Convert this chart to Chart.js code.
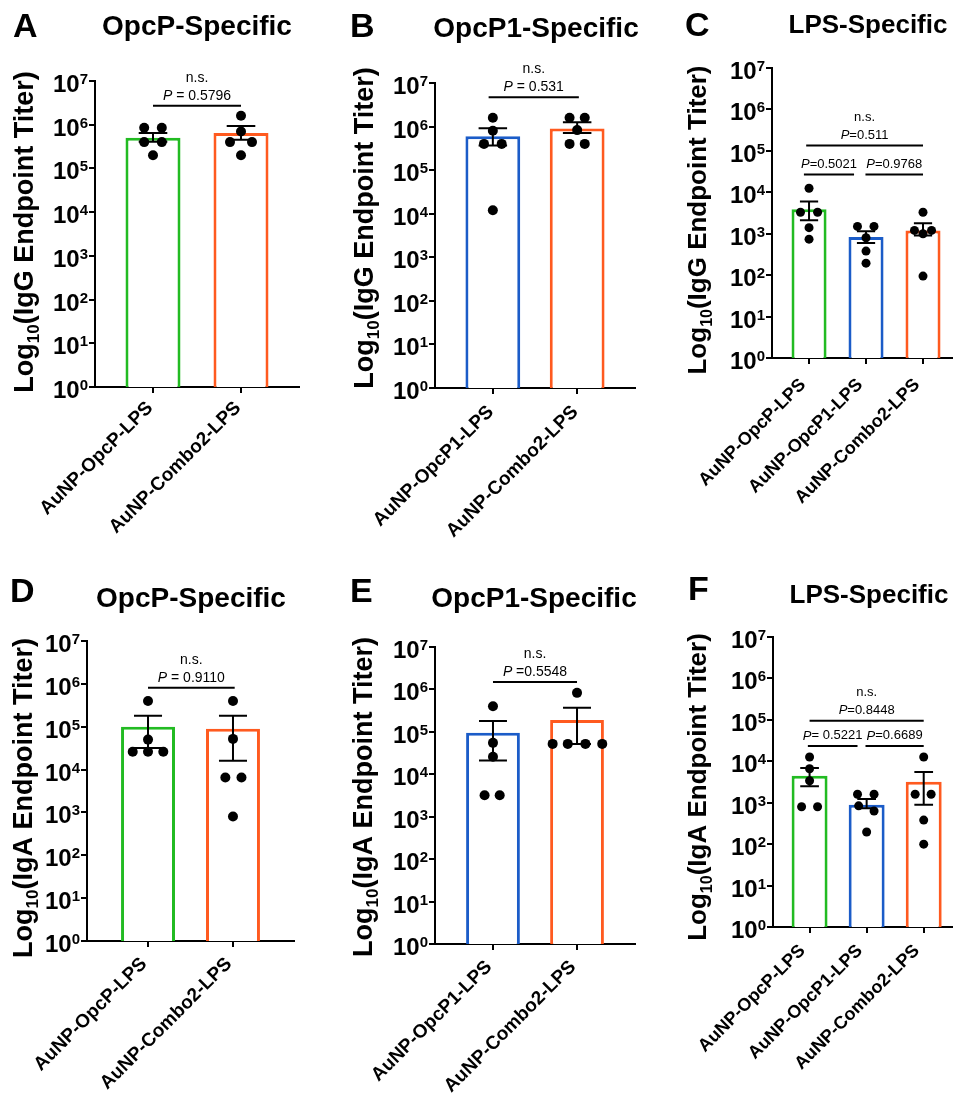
<!DOCTYPE html>
<html>
<head>
<meta charset="utf-8">
<script src="https://cdn.jsdelivr.net/npm/chart.js@4.4.0/dist/chart.umd.min.js"></script>
<style>
  html, body { margin: 0; padding: 0; background: #fff; }
  #fig { position: relative; width: 956px; height: 1108px; overflow: hidden; }
  #fig canvas { position: absolute; }
</style>
</head>
<body>
<div id="fig">
  <canvas id="panel-A" width="320" height="560" style="left:0px;top:0px"></canvas>
  <canvas id="panel-B" width="320" height="560" style="left:320px;top:0px"></canvas>
  <canvas id="panel-C" width="316" height="560" style="left:640px;top:0px"></canvas>
  <canvas id="panel-D" width="320" height="548" style="left:0px;top:560px"></canvas>
  <canvas id="panel-E" width="320" height="548" style="left:320px;top:560px"></canvas>
  <canvas id="panel-F" width="316" height="548" style="left:640px;top:560px"></canvas>
</div>
<script>
// ------------------- Data ------------------
const decades = [1, 10, 100, 1e3, 1e4, 1e5, 1e6, 1e7];

// A - IgG, OpcP-specific
const groupsA = ['AuNP-OpcP-LPS', 'AuNP-Combo2-LPS'];
const meanA = [5.0e5, 6.5e5];
const errHiA = [6.5e5, 9.3e5];
const errLoA = [4.1e5, 4.5e5];
const miceA = [[8.5e5, 8.5e5, 4.0e5, 4.0e5, 2.0e5], [1.6e6, 7.0e5, 4.0e5, 4.0e5, 2.0e5]];
const jitterA = [[-0.1, 0.1, -0.1, 0.1, 0], [0, 0, -0.125, 0.125, 0]];
const bracketsA = [{ from: 1, to: 2, y: 2.7e6, p: 'P = 0.5796', ns: true }];

// B - IgG, OpcP1-specific
const groupsB = ['AuNP-OpcP1-LPS', 'AuNP-Combo2-LPS'];
const meanB = [6.0e5, 9.0e5];
const errHiB = [9.1e5, 1.26e6];
const errLoB = [3.7e5, 7.1e5];
const miceB = [[1.6e6, 8.0e5, 4.0e5, 4.0e5, 1.2e4], [1.6e6, 1.6e6, 8.3e5, 4.0e5, 4.0e5]];
const jitterB = [[0, 0, -0.105, 0.105, 0], [-0.09, 0.09, 0, -0.09, 0.09]];
const bracketsB = [{ from: 0.95, to: 2.02, y: 4.7e6, p: 'P = 0.531', ns: true }];

// C - IgG, LPS-specific
const groupsC = ['AuNP-OpcP-LPS', 'AuNP-OpcP1-LPS', 'AuNP-Combo2-LPS'];
const meanC = [3.9e3, 8.3e2, 1.2e3];
const errHiC = [6.0e3, 1.15e3, 1.8e3];
const errLoC = [2.1e3, 6.0e2, 9.1e2];
const miceC = [[1.25e4, 3.3e3, 3.3e3, 1.4e3, 7.4e2], [1.5e3, 1.5e3, 8.0e2, 3.8e2, 1.95e2], [3.3e3, 1.2e3, 1.2e3, 1.0e3, 95]];
const jitterC = [[0, -0.15, 0.15, 0, 0], [-0.15, 0.14, 0, 0, 0], [0, -0.15, 0.15, 0, 0]];
const bracketsC = [
  { from: 0.95, to: 3.0, y: 1.35e5, p: 'P=0.511', ns: true },
  { from: 0.91, to: 1.79, y: 2.7e4, p: 'P=0.5021', ns: false },
  { from: 1.99, to: 3.0, y: 2.7e4, p: 'P=0.9768', ns: false }
];

// D - IgA, OpcP-specific
const groupsD = ['AuNP-OpcP-LPS', 'AuNP-Combo2-LPS'];
const meanD = [1.0e5, 9.0e4];
const errHiD = [1.8e5, 1.8e5];
const errLoD = [3.2e4, 1.6e4];
const miceD = [[4.0e5, 5.0e4, 2.6e4, 2.6e4, 2.6e4], [4.0e5, 5.2e4, 6.5e3, 6.5e3, 8.0e2]];
const jitterD = [[0, 0, -0.18, 0, 0.18], [0, 0, -0.09, 0.1, 0]];
const bracketsD = [{ from: 1, to: 2.02, y: 8.1e5, p: 'P = 0.9110', ns: true }];

// E - IgA, OpcP1-specific
const groupsE = ['AuNP-OpcP1-LPS', 'AuNP-Combo2-LPS'];
const meanE = [9.5e4, 1.9e5];
const errHiE = [1.8e5, 3.7e5];
const errLoE = [2.1e4, 5.2e4];
const miceE = [[4.0e5, 5.5e4, 2.6e4, 3.2e3, 3.2e3], [8.3e5, 5.2e4, 5.2e4, 5.2e4, 5.2e4]];
const jitterE = [[0, 0, 0, -0.1, 0.08], [0, -0.29, -0.11, 0.1, 0.3]];
const bracketsE = [{ from: 1, to: 2, y: 1.5e6, p: 'P =0.5548', ns: true }];

// F - IgA, LPS-specific
const groupsF = ['AuNP-OpcP-LPS', 'AuNP-OpcP1-LPS', 'AuNP-Combo2-LPS'];
const meanF = [4.5e3, 8.9e2, 3.2e3];
const errHiF = [6.9e3, 1.23e3, 5.5e3];
const errLoF = [2.5e3, 7.4e2, 8.9e2];
const miceF = [[1.27e4, 6.6e3, 3.4e3, 8.0e2, 8.0e2], [1.6e3, 1.6e3, 8.4e2, 6.3e2, 1.96e2], [1.27e4, 1.6e3, 1.6e3, 3.8e2, 1.0e2]];
const jitterF = [[0, 0, 0, -0.14, 0.14], [-0.16, 0.13, -0.14, 0.13, 0], [0, -0.15, 0.13, 0, 0]];
const bracketsF = [
  { from: 1.0, to: 3.0, y: 9.5e4, p: 'P=0.8448', ns: true },
  { from: 0.97, to: 1.84, y: 2.35e4, p: 'P= 0.5221', ns: false },
  { from: 1.98, to: 3.0, y: 2.35e4, p: 'P=0.6689', ns: false }
];

// ------------------- Styles ------------------
const FONT = '"Liberation Sans", Arial, Helvetica, sans-serif';
const green = '#22BB22';
const blue = '#1B5CC8';
const orange = '#FF5A1F';

function drawStat(ctx, text, cx, cy, size) {
  const italic = 'italic ' + size + 'px ' + FONT;
  const plain = size + 'px ' + FONT;
  let head = '', rest = text;
  if (text.charAt(0) === 'P') { head = 'P'; rest = text.slice(1); }
  ctx.font = italic;
  const w1 = head ? ctx.measureText(head).width : 0;
  ctx.font = plain;
  const w2 = ctx.measureText(rest).width;
  let x = cx - (w1 + w2) / 2;
  ctx.textAlign = 'left';
  ctx.textBaseline = 'middle';
  if (head) { ctx.font = italic; ctx.fillText(head, x, cy); x += w1; }
  ctx.font = plain;
  ctx.fillText(rest, x, cy);
}

function titerPanel(canvasId, p) {
  // ------------------- Datasets ------------------
  const datasets = [{
    type: 'bar',
    data: p.groups.map((g, i) => ({ x: i + 1, y: p.means[i] })),
    backgroundColor: '#ffffff',
    borderColor: p.colors,
    borderWidth: 3,
    barPercentage: p.barPct,
    categoryPercentage: 1,
    order: 2
  }];
  p.mice.forEach((vals, i) => {
    datasets.push({
      type: 'scatter',
      data: vals.map((v, k) => ({ x: i + 1 + p.jitter[i][k], y: v })),
      backgroundColor: '#000000',
      borderWidth: 0,
      pointRadius: p.dotR,
      clip: false,
      order: 1
    });
  });

  // ------------------- Extra drawing: error bars, labels, brackets ------------------
  const decor = {
    id: 'decor',
    afterDatasetsDraw(chart) {
      const ctx = chart.ctx;
      const ys = chart.scales.y;
      ctx.save();
      ctx.strokeStyle = '#000';
      ctx.lineWidth = 2;
      chart.getDatasetMeta(0).data.forEach((bar, i) => {
        const yHi = ys.getPixelForValue(p.errHi[i]);
        const yLo = ys.getPixelForValue(p.errLo[i]);
        const half = bar.width * 0.26;
        ctx.beginPath();
        ctx.moveTo(bar.x, yHi); ctx.lineTo(bar.x, yLo);
        ctx.moveTo(bar.x - half, yHi); ctx.lineTo(bar.x + half, yHi);
        ctx.moveTo(bar.x - half, yLo); ctx.lineTo(bar.x + half, yLo);
        ctx.stroke();
      });
      ctx.restore();
    },
    afterDraw(chart) {
      const ctx = chart.ctx;
      const area = chart.chartArea;
      const xs = chart.scales.x, ys = chart.scales.y;
      ctx.save();
      ctx.fillStyle = '#000';

      // panel letter and title
      ctx.textBaseline = 'alphabetic';
      ctx.textAlign = 'left';
      ctx.font = 'bold 34px ' + FONT;
      ctx.fillText(p.letter, p.letterPos[0], p.letterPos[1]);
      ctx.textAlign = 'center';
      ctx.font = 'bold ' + p.titleSize + 'px ' + FONT;
      ctx.fillText(p.title, p.titlePos[0], p.titlePos[1]);

      // y tick labels 10^n
      ctx.textAlign = 'right';
      ys.ticks.forEach(t => {
        const y = ys.getPixelForValue(t.value);
        const exp = String(Math.round(Math.log10(t.value)));
        const xr = area.left - 7;
        ctx.font = 'bold 15px ' + FONT;
        ctx.fillText(exp, xr, y + 3);
        const w = ctx.measureText(exp).width;
        ctx.font = 'bold 24px ' + FONT;
        ctx.fillText('10', xr - w, y + 11);
      });

      // y axis title with subscript
      ctx.save();
      ctx.translate(p.axisTitle[0], p.axisTitle[1]);
      ctx.rotate(-Math.PI / 2);
      const big = 'bold ' + p.axisTitle[2] + 'px ' + FONT;
      const small = 'bold ' + Math.round(p.axisTitle[2] * 0.62) + 'px ' + FONT;
      const parts = [['Log', big, 0], ['10', small, 6], ['(' + p.isotype + ' Endpoint Titer)', big, 0]];
      let total = 0;
      parts.forEach(pt => { ctx.font = pt[1]; total += ctx.measureText(pt[0]).width; });
      let x0 = -total / 2;
      ctx.textAlign = 'left';
      parts.forEach(pt => {
        ctx.font = pt[1];
        ctx.fillText(pt[0], x0, pt[2]);
        x0 += ctx.measureText(pt[0]).width;
      });
      ctx.restore();

      // x category labels, rotated 45 degrees
      ctx.font = 'bold ' + p.labelSize + 'px ' + FONT;
      ctx.textAlign = 'right';
      ctx.textBaseline = 'middle';
      xs.ticks.forEach((t, i) => {
        const x = xs.getPixelForValue(t.value);
        ctx.save();
        ctx.translate(x + p.labelOff[0], area.bottom + p.labelOff[1]);
        ctx.rotate(-Math.PI / 4);
        ctx.fillText(p.groups[i], 0, 0);
        ctx.restore();
      });

      // significance brackets
      ctx.strokeStyle = '#000';
      ctx.lineWidth = 2;
      p.brackets.forEach(b => {
        const y = ys.getPixelForValue(b.y);
        const x1 = xs.getPixelForValue(b.from);
        const x2 = xs.getPixelForValue(b.to);
        ctx.beginPath();
        ctx.moveTo(x1, y); ctx.lineTo(x2, y);
        ctx.stroke();
        drawStat(ctx, b.p, (x1 + x2) / 2, y - 10, p.pSize);
        if (b.ns) drawStat(ctx, 'n.s.', (x1 + x2) / 2, y - 28, p.pSize);
      });
      ctx.restore();
    }
  };

  // ------------------- Chart Options ------------------
  const axisLine = { display: true, color: '#000', width: 2 };
  const tickMarks = { display: true, drawOnChartArea: false, drawTicks: true, tickLength: 6, color: '#000', lineWidth: 2, offset: false };
  const chartOptions = {
    responsive: false,
    animation: false,
    devicePixelRatio: 1,
    events: [],
    layout: { padding: p.pad },
    plugins: { legend: { display: false }, tooltip: { enabled: false }, title: { display: false } },
    scales: {
      x: {
        type: 'linear', min: p.xMin, max: p.xMax, offset: false, z: 1,
        afterBuildTicks: s => { s.ticks = p.groups.map((g, i) => ({ value: i + 1 })); },
        afterFit: s => { s.height = 0; },
        ticks: { display: false },
        grid: tickMarks,
        border: axisLine
      },
      y: {
        type: 'logarithmic', min: 1, max: 1e7, z: 1,
        afterBuildTicks: s => { s.ticks = decades.map(v => ({ value: v, major: true })); },
        afterFit: s => { s.width = 0; },
        ticks: { display: false },
        grid: tickMarks,
        border: axisLine
      }
    }
  };

  // ------------------- Initialize Chart ------------------
  return new Chart(document.getElementById(canvasId), {
    type: 'bar',
    data: { datasets: datasets },
    options: chartOptions,
    plugins: [decor]
  });
}

titerPanel('panel-A', {
  letter: 'A', title: 'OpcP-Specific', isotype: 'IgG',
  groups: groupsA, means: meanA, errHi: errHiA, errLo: errLoA, mice: miceA, jitter: jitterA, brackets: bracketsA,
  colors: [green, orange],
  pad: { left: 95, top: 81, right: 21, bottom: 173 }, xMin: 0.341, xMax: 2.659, barPct: 0.625, dotR: 5,
  letterPos: [13, 37], titlePos: [197, 35], titleSize: 28, axisTitle: [33, 232, 27],
  labelSize: 19, labelOff: [-3, 18], pSize: 14
});
titerPanel('panel-B', {
  letter: 'B', title: 'OpcP1-Specific', isotype: 'IgG',
  groups: groupsB, means: meanB, errHi: errHiB, errLo: errLoB, mice: miceB, jitter: jitterB, brackets: bracketsB,
  colors: [blue, orange],
  pad: { left: 115, top: 83, right: 1, bottom: 172 }, xMin: 0.314, xMax: 2.686, barPct: 0.65, dotR: 5,
  letterPos: [30, 37], titlePos: [216, 37], titleSize: 28, axisTitle: [53, 228, 27],
  labelSize: 19, labelOff: [-2, 21], pSize: 14
});
titerPanel('panel-C', {
  letter: 'C', title: 'LPS-Specific', isotype: 'IgG',
  groups: groupsC, means: meanC, errHi: errHiC, errLo: errLoC, mice: miceC, jitter: jitterC, brackets: bracketsC,
  colors: [green, blue, orange],
  pad: { left: 132, top: 68, right: 0, bottom: 202 }, xMin: 0.35, xMax: 3.5, barPct: 0.615, dotR: 4.5,
  letterPos: [45, 36], titlePos: [228, 33], titleSize: 26, axisTitle: [66, 220, 26],
  labelSize: 18, labelOff: [-6, 24], pSize: 13
});
titerPanel('panel-D', {
  letter: 'D', title: 'OpcP-Specific', isotype: 'IgA',
  groups: groupsD, means: meanD, errHi: errHiD, errLo: errLoD, mice: miceD, jitter: jitterD, brackets: bracketsD,
  colors: [green, orange],
  pad: { left: 87, top: 81, right: 26, bottom: 167 }, xMin: 0.282, xMax: 2.718, barPct: 0.635, dotR: 5,
  letterPos: [10, 42], titlePos: [191, 47], titleSize: 28, axisTitle: [32, 238, 27],
  labelSize: 19, labelOff: [-4, 20], pSize: 14
});
titerPanel('panel-E', {
  letter: 'E', title: 'OpcP1-Specific', isotype: 'IgA',
  groups: groupsE, means: meanE, errHi: errHiE, errLo: errLoE, mice: miceE, jitter: jitterE, brackets: bracketsE,
  colors: [blue, orange],
  pad: { left: 115, top: 87, right: 5, bottom: 164 }, xMin: 0.31, xMax: 2.69, barPct: 0.64, dotR: 5,
  letterPos: [30, 42], titlePos: [214, 47], titleSize: 28, axisTitle: [52, 237, 27],
  labelSize: 19, labelOff: [-4, 20], pSize: 14
});
titerPanel('panel-F', {
  letter: 'F', title: 'LPS-Specific', isotype: 'IgA',
  groups: groupsF, means: meanF, errHi: errHiF, errLo: errLoF, mice: miceF, jitter: jitterF, brackets: bracketsF,
  colors: [green, blue, orange],
  pad: { left: 133, top: 77, right: 0, bottom: 181 }, xMin: 0.359, xMax: 3.487, barPct: 0.63, dotR: 4.5,
  letterPos: [48, 40], titlePos: [229, 43], titleSize: 26, axisTitle: [66, 227, 26],
  labelSize: 18, labelOff: [-7, 21], pSize: 13
});
</script>
</body>
</html>
